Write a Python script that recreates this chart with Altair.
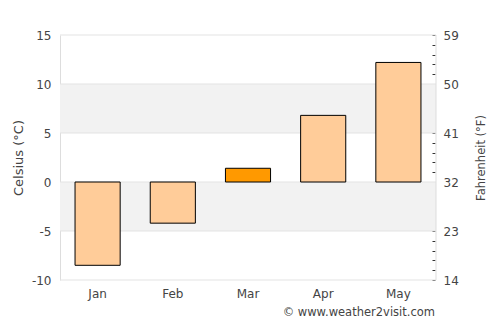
import altair as alt
import pandas as pd

months = ["Jan", "Feb", "Mar", "Apr", "May"]
celsius = [-8.5, -4.2, 1.4, 6.8, 12.2]
highlight_month = "Mar"
band_lo = [-5, 5]
band_hi = [0, 10]
grid_vals = [-10, -5, 0, 5, 10, 15]
left_ticks = [-10, -5, 0, 5, 10, 15]
right_ticks = list(range(-10, 16))
y_domain = [-10, 15]

df = pd.DataFrame({"month": months, "c": celsius, "zero": [0] * len(months)})
bands = pd.DataFrame({"lo": band_lo, "hi": band_hi})
grid = pd.DataFrame({"g": grid_vals})
border = pd.DataFrame({"a": [y_domain[0]], "b": [y_domain[1]]})

FONT = "DejaVu Sans"
TXT = "#444444"
yscale = alt.Scale(domain=y_domain, nice=False, zero=False)

band_layer = alt.Chart(bands).mark_rect(color="#f2f2f2").encode(
    y=alt.Y("lo:Q", scale=yscale,
            axis=alt.Axis(title="Celsius (°C)", values=left_ticks, grid=False, ticks=False, tickSize=0,
                          domain=True, domainColor="#dddddd", labelPadding=9, titlePadding=6,
                          titleFontSize=13,
                          labelExpr="datum.value < 0 ? '-' + abs(datum.value) : '' + datum.value")),
    y2="hi:Q",
    x=alt.value(0), x2=alt.value(376),
)

grid_layer = alt.Chart(grid).mark_rule(color="#e3e3e3", strokeWidth=1).encode(
    y=alt.Y("g:Q", scale=yscale),
    x=alt.value(0), x2=alt.value(376),
)

bar_layer = alt.Chart(df).mark_bar(stroke="black", strokeWidth=1).encode(
    x=alt.X("month:N", sort=months, title=None,
            scale=alt.Scale(paddingInner=0.4, paddingOuter=0.2),
            axis=alt.Axis(ticks=False, tickSize=0, domain=False, labelAngle=0, labelPadding=8, grid=False)),
    y=alt.Y("c:Q", scale=yscale),
    y2="zero:Q",
    color=alt.condition(alt.datum.month == highlight_month, alt.value("#ff9900"), alt.value("#ffcc99")),
)

right_layer = alt.Chart(border).mark_rule(color="#dddddd", strokeWidth=1).encode(
    y=alt.Y("a:Q", scale=yscale,
            axis=alt.Axis(orient="right", title="Fahrenheit (°F)", values=right_ticks, grid=False,
                          ticks=True, tickSize=3, tickColor="#333333", domain=False, offset=-4,
                          labelPadding=8, titlePadding=28, labelOverlap=False, titleAngle=270,
                          titleFontSize=11.5,
                          labelExpr="datum.value % 5 == 0 ? format(datum.value * 1.8 + 32, 'd') : ''")),
    y2="b:Q",
    x=alt.value(376),
)

credit = alt.Chart(pd.DataFrame({"t": ["© www.weather2visit.com"]})).mark_text(
    align="right", baseline="middle", fontSize=11.5, font=FONT, color=TXT
).encode(text="t:N", x=alt.value(375), y=alt.value(278))

left = alt.layer(band_layer, grid_layer, bar_layer)
chart = alt.layer(left, right_layer, credit).resolve_scale(y="independent").properties(
    width=376, height=245,
    autosize=alt.AutoSizeParams(type="none"),
    padding={"left": 60, "top": 35, "right": 64, "bottom": 45},
).configure_view(stroke=None).configure_axis(
    labelFont=FONT, titleFont=FONT, labelFontSize=12, titleFontSize=12,
    labelColor=TXT, titleColor=TXT, titleFontWeight="normal",
)

chart.save("out.html", embed_options={"renderer": "svg", "actions": False})
